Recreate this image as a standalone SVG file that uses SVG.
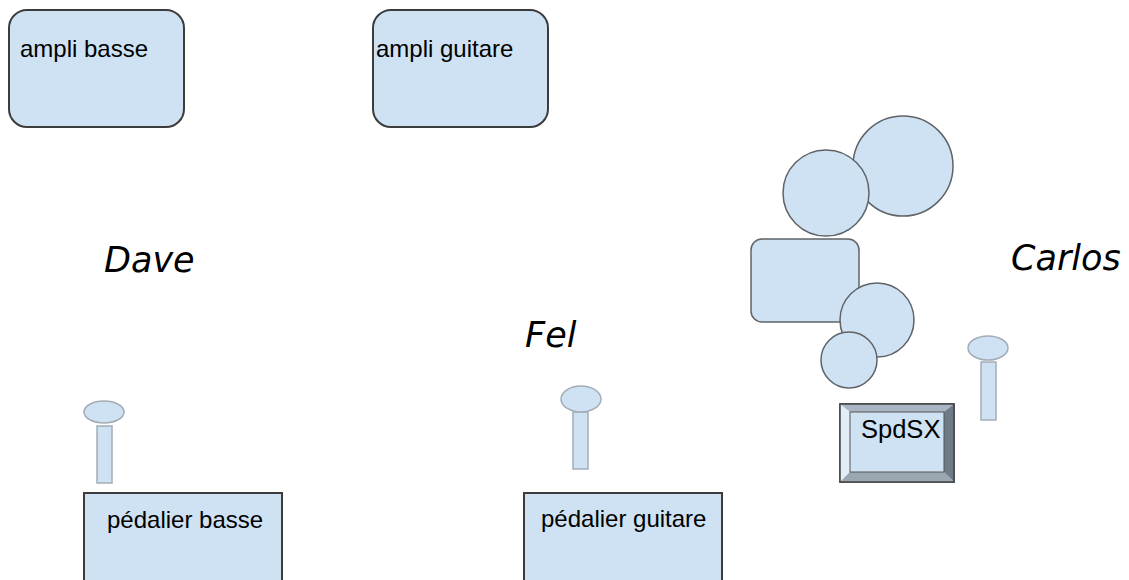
<svg xmlns="http://www.w3.org/2000/svg" width="1129" height="580" viewBox="0 0 1129 580">
<style>
.box{fill:#cfe2f3;stroke:#3c3c3c;stroke-width:2}
.drum{fill:#cfe2f3;stroke:#5f6368;stroke-width:1.5}
.mic{fill:#cfe2f3;stroke:#a3adb8;stroke-width:1.5}
.lbl{font-family:"Liberation Sans",Arial,sans-serif;font-size:24px;fill:#000}
.hand{font-family:"DejaVu Sans",sans-serif;font-style:italic;font-weight:200;font-size:35px;fill:#000}
</style>
<rect width="1129" height="580" fill="#fff"/>
<g id="ampli-basse"><rect class="box" x="9" y="10" width="175" height="117" rx="18"/><text class="lbl" x="20" y="57">ampli basse</text></g>
<g id="ampli-guitare"><rect class="box" x="373" y="10" width="175" height="117" rx="18"/><text class="lbl" x="376" y="57">ampli guitare</text></g>
<g id="dave"><text class="hand" x="104" y="272">Dave</text></g>
<g id="fel"><text class="hand" x="525" y="347">Fel</text></g>
<g id="carlos"><text class="hand" x="1011" y="270">Carlos</text></g>
<g id="drums">
<circle class="drum" cx="903" cy="166" r="50"/>
<circle class="drum" cx="826" cy="193" r="43"/>
<rect class="drum" x="751" y="239" width="108" height="83" rx="11"/>
<circle class="drum" cx="877" cy="320" r="37"/>
<circle class="drum" cx="849" cy="360" r="28"/>
</g>
<g id="mic-carlos"><rect class="mic" x="981" y="362" width="15" height="58"/><ellipse class="mic" cx="988" cy="348" rx="20" ry="12"/></g>
<g id="spdsx">
<rect x="840" y="404" width="114" height="78" fill="#cfe2f3" stroke="#444" stroke-width="1.5"/>
<polygon points="840,404 954,404 944,412 850,412" fill="#a9b5c2"/>
<polygon points="840,404 850,412 850,472 840,482" fill="#e2edf8"/>
<polygon points="954,404 954,482 944,472 944,412" fill="#6f7b87"/>
<polygon points="840,482 954,482 944,472 850,472" fill="#9aa6b2"/>
<rect x="850" y="412" width="94" height="60" fill="#cfe2f3" stroke="#555" stroke-width="1"/>
<rect x="840" y="404" width="114" height="78" fill="none" stroke="#444" stroke-width="1.5"/>
<text class="lbl" x="861" y="438" style="font-size:25.5px">SpdSX</text>
</g>
<g id="mic-dave"><rect class="mic" x="97" y="426" width="15" height="57"/><ellipse class="mic" cx="104" cy="412" rx="20" ry="11"/></g>
<g id="pedalier-basse"><rect class="box" x="84" y="493" width="198" height="100"/><text class="lbl" x="107" y="528">pédalier basse</text></g>
<g id="mic-fel"><rect class="mic" x="573" y="412" width="15" height="57"/><ellipse class="mic" cx="581" cy="399" rx="20" ry="13"/></g>
<g id="pedalier-guitare"><rect class="box" x="524" y="493" width="198" height="100"/><text class="lbl" x="541" y="527">pédalier guitare</text></g>
<g id="connectors"/>
</svg>
